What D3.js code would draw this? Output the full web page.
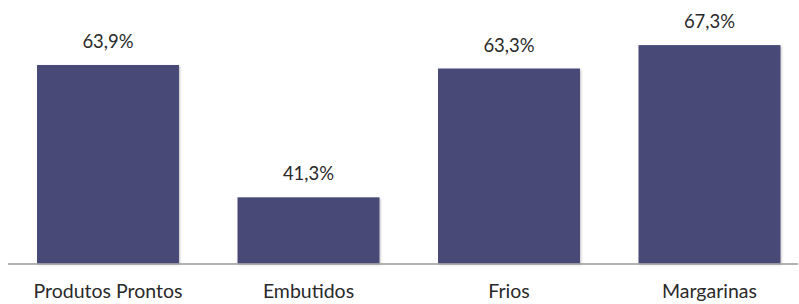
<!DOCTYPE html>
<html><head><meta charset="utf-8">
<script src="https://cdn.jsdelivr.net/npm/d3@7/dist/d3.min.js"></script>
<style>body{margin:0;background:#fff}svg{display:block}</style>
</head><body><svg id="c" width="799" height="304"></svg>
<script>
const categories = ["Produtos Prontos", "Embutidos", "Frios", "Margarinas"];
const values = [63.9, 41.3, 63.3, 67.3];
const labels = ["63,9%", "41,3%", "63,3%", "67,3%"];

const svg = d3.select("#c");
const axisLeft = 8, axisRight = 798, base = 263.5;
const x = d3.scaleBand().domain(categories).range([7.75, 809.75]).paddingInner(0.292).paddingOuter(0.146);
const y = d3.scaleLinear().domain([30, 75]).range([base, 0]);

const defs = svg.append("defs");
const f = defs.append("filter").attr("id","sh").attr("x","-5%").attr("y","-5%").attr("width","110%").attr("height","110%");
f.append("feDropShadow").attr("dx",1).attr("dy",1).attr("stdDeviation",1).attr("flood-color","#000").attr("flood-opacity",0.25);

svg.selectAll("rect.bar").data(values).join("rect").attr("class","bar")
  .attr("x",(d,i)=>x(categories[i]))
  .attr("width",x.bandwidth())
  .attr("y",d=>y(d))
  .attr("height",d=>base-y(d))
  .attr("fill","#4a4a78")
  .attr("filter","url(#sh)");

svg.append("line").attr("x1",axisLeft).attr("x2",axisRight).attr("y1",base+0.5).attr("y2",base+0.5)
  .attr("stroke","#999").attr("stroke-width",1.3);

svg.selectAll("text.val").data(values).join("text").attr("class","val")
  .attr("x",(d,i)=>x(categories[i])+x.bandwidth()/2)
  .attr("y",d=>y(d)-17)
  .attr("text-anchor","middle")
  .attr("font-family","Lato, 'Open Sans', sans-serif")
  .attr("font-size",18.5).attr("fill","#2a2a2a")
  .text((d,i)=>labels[i]);

svg.selectAll("text.cat").data(categories).join("text").attr("class","cat")
  .attr("x",d=>x(d)+x.bandwidth()/2)
  .attr("y",298)
  .attr("text-anchor","middle")
  .attr("font-family","Lato, 'Open Sans', sans-serif")
  .attr("font-size",19.5).attr("fill","#2a2a2a")
  .text(d=>d);
</script></body></html>
